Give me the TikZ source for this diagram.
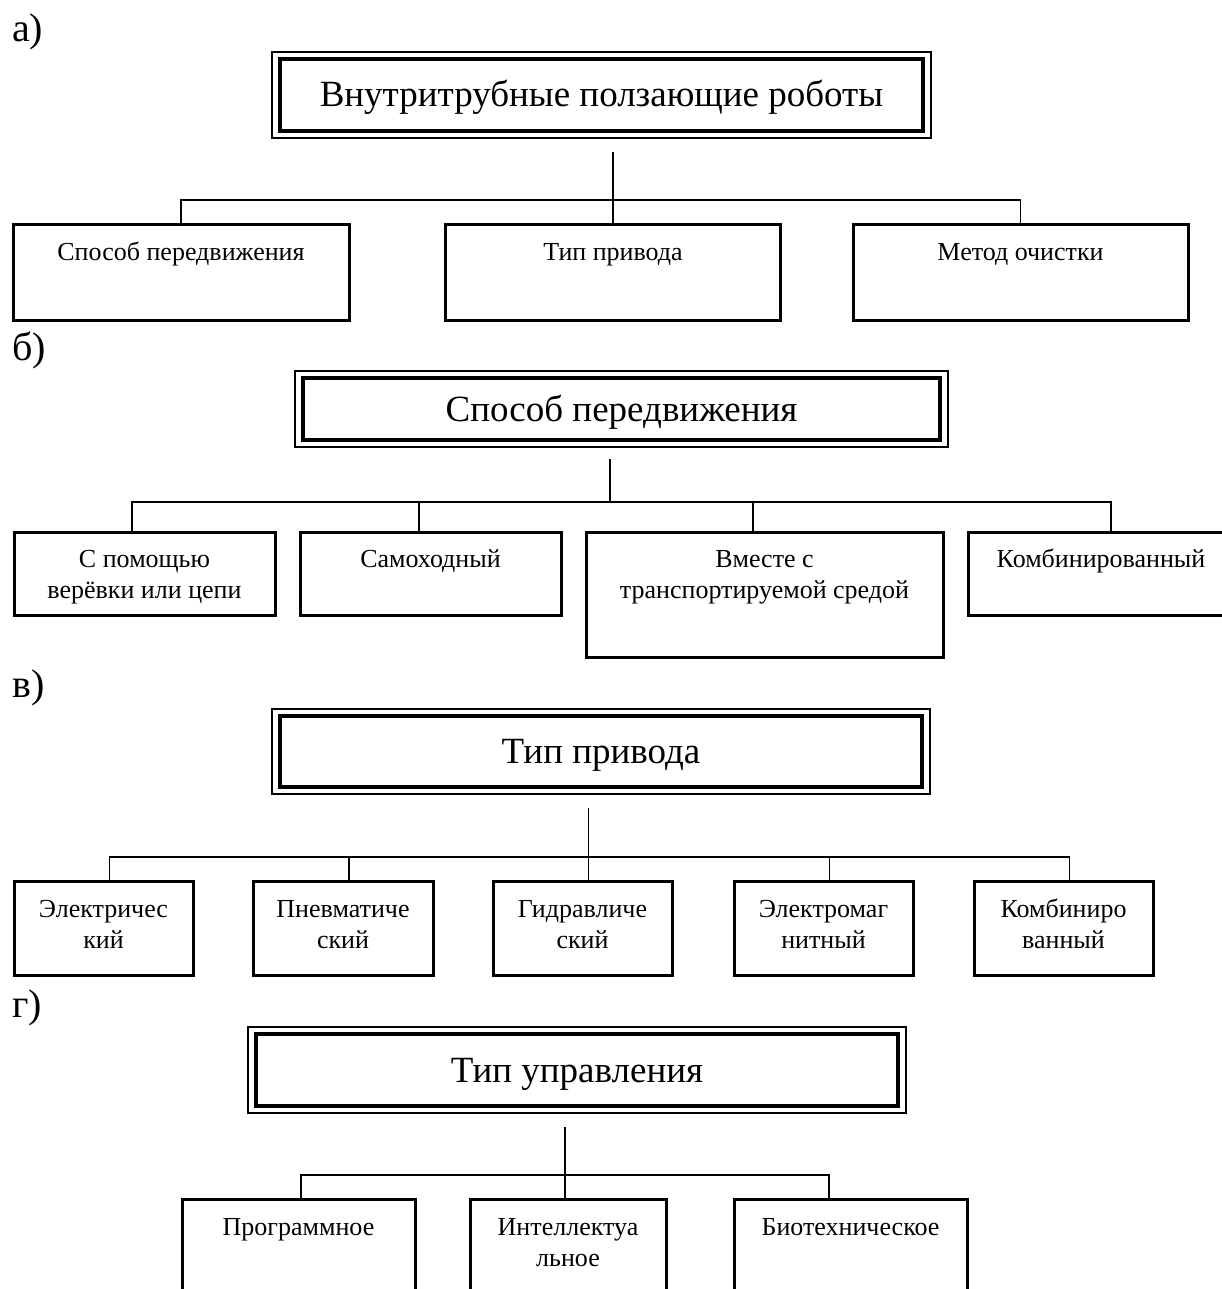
\documentclass[tikz,border=0pt]{standalone}
\usepackage{fontspec}
\setmainfont{Liberation Serif}
\newcommand{\boxlines}[2]{\begin{tabular}[t]{@{}c@{}}#1\\#2\end{tabular}}

\begin{document}
\begin{tikzpicture}[x=1pt,y=-1pt]
					\tikzstyle{headbox}=[draw,line width=3.2pt,inner sep=0pt,font=\fontsize{37}{44}\selectfont,text height=24pt,text depth=0pt]
					\tikzstyle{headrim}=[line width=2pt]
					\tikzstyle{itembox}=[draw,line width=3pt,inner sep=0pt,font=\fontsize{26}{31}\selectfont]
					\tikzstyle{wire}=[line width=1.7pt]
					\tikzstyle{partlabel}=[anchor=base west,inner sep=0pt,font=\fontsize{40}{48}\selectfont]
					\useasboundingbox (0,0) rectangle (1222,1289);
					\clip (0,0) rectangle (1222,1289);
					\node[partlabel] (pa) at (12,42) {а)};
					\node[headbox,minimum width=643pt,minimum height=72pt] (A) at (601.5,95) {Внутритрубные ползающие роботы};
					\draw[headrim] ([xshift=-6pt,yshift=5pt]A.north west) rectangle ([xshift=6pt,yshift=-5pt]A.south east);
					\node[itembox,minimum width=336pt,minimum height=95pt,text height=35pt,text depth=60pt] (a1) at (181,272.5) {Способ передвижения};
					\node[itembox,minimum width=335pt,minimum height=95pt,text height=35pt,text depth=60pt] (a2) at (613,272.5) {Тип привода};
					\node[itembox,minimum width=335pt,minimum height=95pt,text height=35pt,text depth=60pt] (a3) at (1020.5,272.5) {Метод очистки};
					\coordinate (a0) at (613,152);
					\coordinate (abus) at (613,200);
					\draw[wire] (a0) -- (a0 |- a2.north);
					\draw[wire] (a1.north) |- (abus) -| (a3.north);
					\node[partlabel] (pb) at (12,360) {б)};
					\node[headbox,minimum width=637pt,minimum height=62pt] (B) at (621.5,409) {Способ передвижения};
					\draw[headrim] ([xshift=-6pt,yshift=5pt]B.north west) rectangle ([xshift=6pt,yshift=-5pt]B.south east);
					\node[itembox,minimum width=261pt,minimum height=83pt,text height=35pt,text depth=48pt] (b1) at (144.5,573.5) {\boxlines{С помощью}{верёвки или цепи}};
					\node[itembox,minimum width=261pt,minimum height=83pt,text height=35pt,text depth=48pt] (b2) at (430.5,573.5) {Самоходный};
					\node[itembox,minimum width=357pt,minimum height=125pt,text height=35pt,text depth=90pt] (b3) at (764.5,594.5) {\boxlines{Вместе с}{транспортируемой средой}};
					\node[itembox,minimum width=266pt,minimum height=83pt,text height=35pt,text depth=48pt] (b4) at (1101,573.5) {Комбинированный};
					\coordinate (b0) at (610,459);
					\coordinate (bbus) at (610,502);
					\coordinate (b1t) at ([xshift=-12.5pt]b1.north);
					\coordinate (b2t) at ([xshift=-11.5pt]b2.north);
					\coordinate (b3t) at ([xshift=-11.5pt]b3.north);
					\coordinate (b4t) at ([xshift=10pt]b4.north);
					\draw[wire] (b0) -- (bbus);
					\draw[wire] (b1t) |- (b4t |- bbus) -- (b4t);
					\draw[wire] (b2t) -- (b2t |- bbus);
					\draw[wire] (b3t) -- (b3t |- bbus);
					\node[partlabel] (pc) at (12,697) {в)};
					\node[headbox,minimum width=642pt,minimum height=71pt] (C) at (601,751.5) {Тип привода};
					\draw[headrim] ([xshift=-6pt,yshift=5pt]C.north west) rectangle ([xshift=6pt,yshift=-5pt]C.south east);
					\node[itembox,minimum width=179pt,minimum height=94pt,text height=36pt,text depth=58pt] (c1) at (103.5,928) {\boxlines{Электричес}{кий}};
					\node[itembox,minimum width=180pt,minimum height=94pt,text height=36pt,text depth=58pt] (c2) at (343,928) {\boxlines{Пневматиче}{ский}};
					\node[itembox,minimum width=179pt,minimum height=94pt,text height=36pt,text depth=58pt] (c3) at (582.5,928) {\boxlines{Гидравличе}{ский}};
					\node[itembox,minimum width=179pt,minimum height=94pt,text height=36pt,text depth=58pt] (c4) at (823.5,928) {\boxlines{Электромаг}{нитный}};
					\node[itembox,minimum width=179pt,minimum height=94pt,text height=36pt,text depth=58pt] (c5) at (1063.5,928) {\boxlines{Комбиниро}{ванный}};
					\coordinate (c1t) at ([xshift=6pt]c1.north);
					\coordinate (c2t) at ([xshift=6pt]c2.north);
					\coordinate (c3t) at ([xshift=6pt]c3.north);
					\coordinate (c4t) at ([xshift=6pt]c4.north);
					\coordinate (c5t) at ([xshift=6pt]c5.north);
					\coordinate (c0) at (c3t |- 0,808);
					\coordinate (cbus) at (c3t |- 0,857);
					\draw[wire] (c0) -- (c3t);
					\draw[wire] (c1t) |- (c5t |- cbus) -- (c5t);
					\draw[wire] (c2t) -- (c2t |- cbus);
					\draw[wire] (c4t) -- (c4t |- cbus);
					\node[partlabel] (pd) at (12,1017) {г)};
					\node[headbox,minimum width=642pt,minimum height=72pt] (D) at (577,1070) {Тип управления};
					\draw[headrim] ([xshift=-6pt,yshift=5pt]D.north west) rectangle ([xshift=6pt,yshift=-5pt]D.south east);
					\node[itembox,minimum width=233pt,minimum height=121pt,text height=36pt,text depth=85pt] (d1) at (298.5,1259.5) {Программное};
					\node[itembox,minimum width=196pt,minimum height=121pt,text height=36pt,text depth=85pt] (d2) at (568,1259.5) {\boxlines{Интеллектуа}{льное}};
					\node[itembox,minimum width=233pt,minimum height=121pt,text height=36pt,text depth=85pt] (d3) at (850.5,1259.5) {Биотехническое};
					\coordinate (d0) at (565,1127);
					\coordinate (dbus) at (565,1175);
					\coordinate (d1t) at ([xshift=2.5pt]d1.north);
					\coordinate (d2t) at ([xshift=-3pt]d2.north);
					\coordinate (d3t) at ([xshift=-21.5pt]d3.north);
					\draw[wire] (d0) -- (d2t);
					\draw[wire] (d1t) |- (d3t |- dbus) -- (d3t);
					\end{tikzpicture}
\end{document}
